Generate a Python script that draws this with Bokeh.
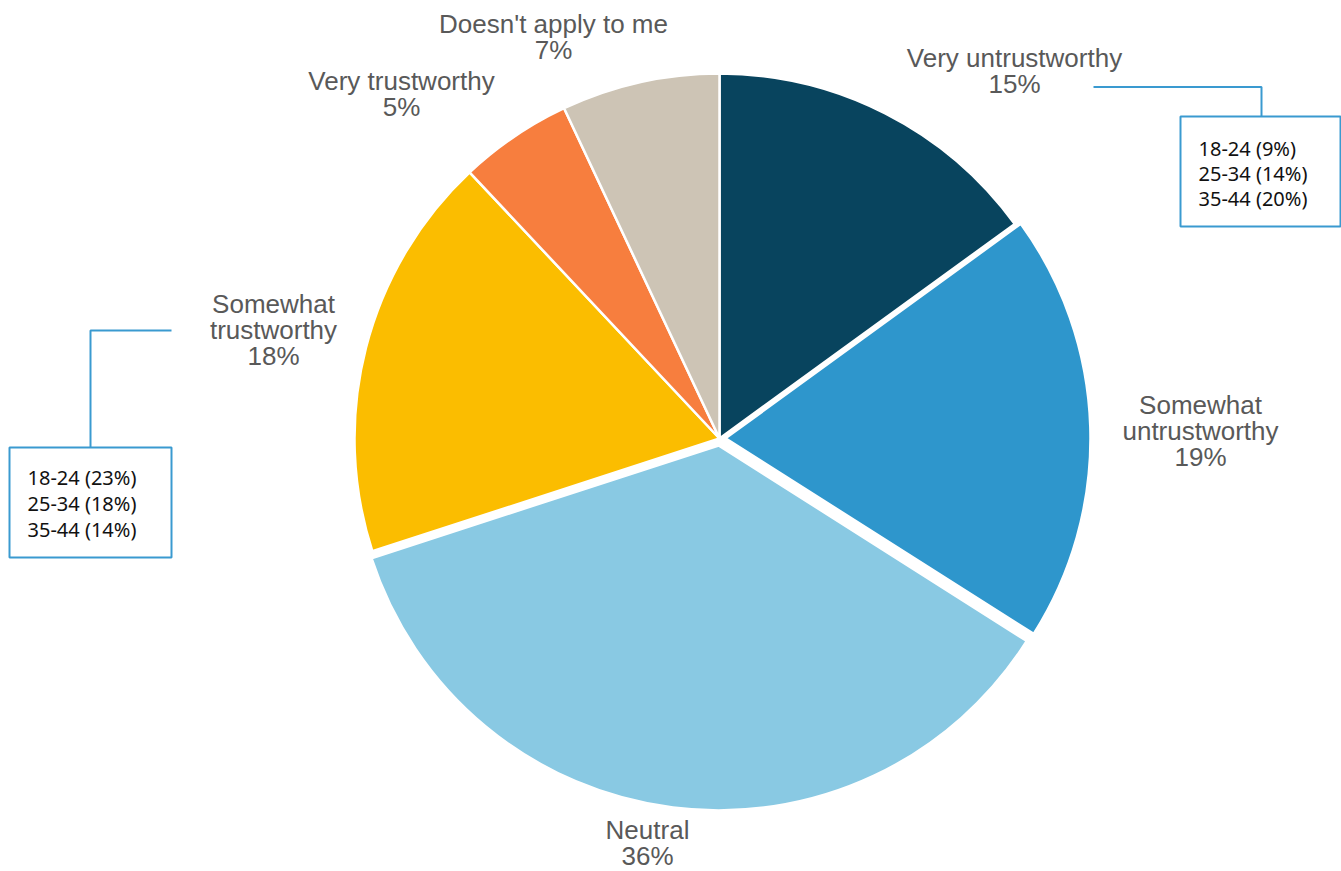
import math
from bokeh.plotting import figure
from bokeh.models import Range1d, ColumnDataSource
from bokeh.core.properties import value
from bokeh.embed import file_html
from bokeh.resources import INLINE

# ---- data ----
categories = ["Very untrustworthy", "Somewhat untrustworthy", "Neutral",
              "Somewhat trustworthy", "Very trustworthy", "Doesn't apply to me"]
values = [15, 19, 36, 18, 5, 7]
age_groups = ["18-24", "25-34", "35-44"]
untrustworthy_by_age = [9, 14, 20]
trustworthy_by_age = [23, 18, 14]

# ---- style / layout ----
colors = ["#08445e", "#2e96cc", "#89c9e3", "#fbbd00", "#f77e3e", "#cdc4b5"]
explode = [0, 6, 7, 0, 0, 0]
W, H = 1341, 871
CX, CY, R = 719, 438, 365
def fy(v):
    return H - v

p = figure(width=W, height=H, x_range=Range1d(0, W), y_range=Range1d(0, H),
           output_backend="svg", toolbar_location=None, min_border=0)
p.axis.visible = False
p.grid.visible = False
p.outline_line_color = None
p.background_fill_color = "white"

total = sum(values)
xs, ys, sa, ea = [], [], [], []
cum = 0.0
for v, e in zip(values, explode):
    c0 = cum / total
    c1 = (cum + v) / total
    cum += v
    mid = math.pi / 2 - 2 * math.pi * (c0 + c1) / 2
    xs.append(CX + e * math.cos(mid))
    ys.append(fy(CY) + e * math.sin(mid))
    sa.append(math.pi / 2 - 2 * math.pi * c1)
    ea.append(math.pi / 2 - 2 * math.pi * c0)
src = ColumnDataSource(dict(x=xs, y=ys, s=sa, e=ea, c=colors))
p.wedge(x="x", y="y", radius=R, start_angle="s", end_angle="e", direction="anticlock",
        fill_color="c", line_color="white", line_width=2.5, source=src)

# ---- slice labels ----
label_lines = [
    ["Very untrustworthy"],
    ["Somewhat", "untrustworthy"],
    ["Neutral"],
    ["Somewhat", "trustworthy"],
    ["Very trustworthy"],
    ["Doesn't apply to me"],
]
label_x = [1014, 1200, 647, 273, 401, 553]
label_first_baseline = [57, 404, 829, 303, 80, 23]
LH = 26
tx, ty, tt = [], [], []
for cat, v, lines, lx, lb in zip(categories, values, label_lines, label_x, label_first_baseline):
    allines = lines + [f"{v}%"]
    for i, t in enumerate(allines):
        tx.append(lx)
        ty.append(fy(lb + i * LH))
        tt.append(t)
p.text(x=tx, y=ty, text=tt, text_font=value("Liberation Sans"), text_font_size="26px",
       text_color="#595959", text_align="center", text_baseline="alphabetic")

# ---- callout boxes ----
BLUE = "#3a9ad0"
# right box (Very untrustworthy by age)
p.line(x=[1093, 1261, 1261], y=[fy(86.5), fy(86.5), fy(116)], line_color=BLUE, line_width=2)
p.quad(left=1180, right=1340, top=fy(116), bottom=fy(226), fill_color="white",
       line_color=BLUE, line_width=2)
p.text(x=[1198] * 3, y=[fy(148 + 25 * i) for i in range(3)],
       text=[f"{a} ({v}%)" for a, v in zip(age_groups, untrustworthy_by_age)],
       text_font=value("Noto Sans"), text_font_size="20px", text_color="#111111",
       text_align="left", text_baseline="alphabetic")
# left box (Somewhat trustworthy by age)
p.line(x=[171, 90, 90], y=[fy(330), fy(330), fy(447)], line_color=BLUE, line_width=2)
p.quad(left=9, right=171, top=fy(447), bottom=fy(557), fill_color="white",
       line_color=BLUE, line_width=2)
p.text(x=[27] * 3, y=[fy(477 + 26 * i) for i in range(3)],
       text=[f"{a} ({v}%)" for a, v in zip(age_groups, trustworthy_by_age)],
       text_font=value("Noto Sans"), text_font_size="20px", text_color="#111111",
       text_align="left", text_baseline="alphabetic")

open("out.html", "w").write(file_html(p, INLINE))
